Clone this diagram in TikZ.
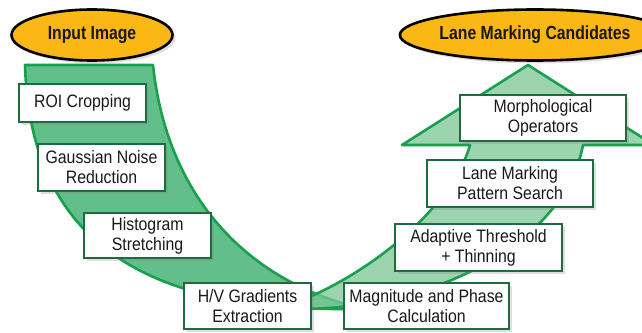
\documentclass[tikz,border=0pt]{standalone}
\usepackage{fontspec}
\setmainfont{Liberation Sans}[FakeStretch=0.88]
\newfontfamily\ovalfont{Liberation Sans}[FakeStretch=0.83]
\usetikzlibrary{shapes.geometric,shadows}

\definecolor{bandgreen}{HTML}{62BF8C}
\definecolor{arrowgreen}{HTML}{7CC696}
\definecolor{edgegreen}{HTML}{18A04C}
\definecolor{boxgreen}{HTML}{1F6B3F}
\definecolor{ovalfill}{HTML}{FBB714}

\tikzset{
  stagebox/.style={draw=boxgreen, line width=2.7pt, fill=white, align=center,
    inner sep=0pt, text=black!90, font=\fontsize{18}{20}\selectfont,
    drop shadow={shadow xshift=3pt,shadow yshift=-3pt,opacity=0.25}},
  oval/.style={ellipse, draw=black, line width=2.6pt, fill=ovalfill, inner sep=0pt,
    text=black!90, font=\ovalfont\bfseries\fontsize{19}{21}\selectfont,
    minimum height=51pt,
    drop shadow={shadow xshift=3pt,shadow yshift=-3pt,opacity=0.25}},
  band/.style={draw=edgegreen, line width=2.6pt, line join=round}
}

\begin{document}
\begin{tikzpicture}[x=1pt, y=-1pt]
    \clip (0,0) rectangle (642,332);

    % the band going down on the left
    \path[band, fill=bandgreen] (25,65) -- (153,65)
        .. controls (165,180) and (230,270) .. (345,304) -- (345,309)
        .. controls (130,310) and (30,230) .. (25,65) -- cycle;
    % the band coming up on the right, ending in the arrowhead
    \path[band, fill=arrowgreen, fill opacity=0.75] (295,303)
        .. controls (380,270) and (455,200) .. (470,145)
        -- (402,145) -- (528,65) -- (654,145) -- (583,145)
        .. controls (565,240) and (440,310) .. (295,309) -- cycle;

    % steps down
    \node[stagebox, minimum width=127pt, minimum height=38pt] (roi)   at (82.5,103)   {ROI Cropping};
    \node[stagebox, minimum width=127pt, minimum height=47pt] (gauss) at (101.5,167.5) {Gaussian Noise\\Reduction};
    \node[stagebox, minimum width=127pt, minimum height=45pt] (histo) at (147.5,235.5) {Histogram\\Stretching};
    \node[stagebox, minimum width=127pt, minimum height=46pt] (grad)  at (247.5,306)   {H/V Gradients\\Extraction};
    % steps up
    \node[stagebox, minimum width=165pt, minimum height=46pt] (magn)   at (426.5,306)   {Magnitude and Phase\\Calculation};
    \node[stagebox, minimum width=167pt, minimum height=47pt] (adapt)  at (478.5,247.5) {Adaptive Threshold\\+ Thinning};
    \node[stagebox, minimum width=166pt, minimum height=47pt] (search) at (510,183.5)   {Lane Marking\\Pattern Search};
    \node[stagebox, minimum width=166pt, minimum height=46pt] (morph)  at (543,118)     {Morphological\\Operators};

    \node[oval, minimum width=161pt] (input) at (92,35)  {Input Image};
    \node[oval, minimum width=222pt] (cands) at (535,35) {Lane Marking Candidates};
\end{tikzpicture}
\end{document}
